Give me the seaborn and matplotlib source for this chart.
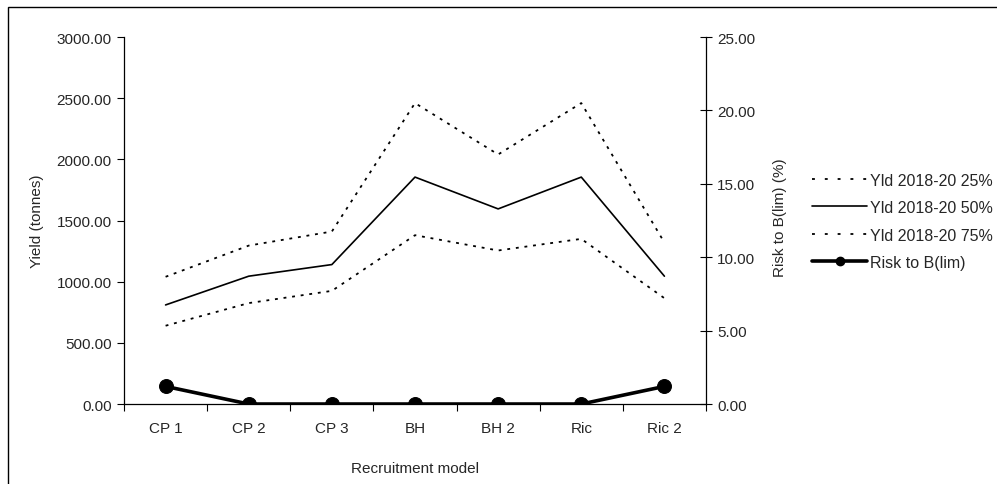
import matplotlib
matplotlib.use("Agg")
import matplotlib.pyplot as plt
import seaborn as sns
import pandas as pd
from matplotlib.patches import Rectangle
from matplotlib.lines import Line2D

sns.set_theme(style="white")
plt.rcParams["font.family"] = ["Liberation Sans", "DejaVu Sans"]

models = ["CP 1", "CP 2", "CP 3", "BH", "BH 2", "Ric", "Ric 2"]
yld_25 = [1040, 1295, 1410, 2460, 2040, 2460, 1320]
yld_50 = [810, 1045, 1140, 1855, 1595, 1855, 1045]
yld_75 = [640, 825, 925, 1380, 1255, 1350, 865]
risk_blim = [1.2, 0.0, 0.0, 0.0, 0.0, 0.0, 1.2]

df = pd.DataFrame({
    "model": models,
    "x": range(len(models)),
    "y25": yld_25,
    "y50": yld_50,
    "y75": yld_75,
    "risk": risk_blim,
})

FS = 11
fig = plt.figure(figsize=(9.97, 4.85), dpi=100)
ax = fig.add_axes([0.1244, 0.1649, 0.5837, 0.7567])
ax2 = ax.twinx()

dot = (0, (1.6, 3.2))
sns.lineplot(data=df, x="x", y="y25", ax=ax, color="black", lw=1.3, linestyle=dot)
sns.lineplot(data=df, x="x", y="y50", ax=ax, color="black", lw=1.2)
sns.lineplot(data=df, x="x", y="y75", ax=ax, color="black", lw=1.3, linestyle=dot)
sns.lineplot(data=df, x="x", y="risk", ax=ax2, color="black", lw=2.6,
             marker="o", markersize=10, markeredgecolor="black")

ax.set_xlim(-0.5, len(models) - 0.5)
ax.set_ylim(0, 3000)
ax2.set_ylim(0, 25)
ax.set_yticks(range(0, 3001, 500))
ax.set_yticklabels([f"{v:.2f}" for v in range(0, 3001, 500)])
ax2.set_yticks(range(0, 26, 5))
ax2.set_yticklabels([f"{v:.2f}" for v in range(0, 26, 5)])

# category labels centred, ticks on the category boundaries
ax.set_xticks([i + 0.5 for i in range(-1, len(models))])
ax.set_xticklabels([])
ax.set_xticks(range(len(models)), minor=True)
ax.set_xticklabels(models, minor=True)
ax.tick_params(axis="x", which="major", direction="out", length=5, width=0.8,
               color="black", bottom=True)
ax.tick_params(axis="x", which="minor", length=0, pad=12, labelsize=FS)
ax.tick_params(axis="y", direction="out", length=5, width=0.8, color="black",
               left=True, labelsize=FS, pad=4)
ax2.tick_params(axis="y", direction="inout", length=8, width=0.8, color="black",
                right=True, labelsize=FS, pad=4)

for a in (ax, ax2):
    a.spines["top"].set_visible(False)
    for s in ("left", "right", "bottom"):
        a.spines[s].set_color("black")
        a.spines[s].set_linewidth(0.9)
ax.spines["right"].set_visible(False)
ax2.spines["left"].set_visible(False)
ax2.spines["bottom"].set_visible(False)

ax.set_xlabel("Recruitment model", fontsize=FS, labelpad=19)
ax.set_ylabel("Yield (tonnes)", fontsize=FS)
ax.yaxis.set_label_coords(-0.1375, 0.5)
ax2.set_ylabel("Risk to B(lim) (%)", fontsize=FS)
ax2.yaxis.set_label_coords(1.1144, 0.51)

handles = [
    Line2D([], [], color="black", lw=1.3, linestyle=(0, (1.6, 5.5))),
    Line2D([], [], color="black", lw=1.2),
    Line2D([], [], color="black", lw=1.3, linestyle=(0, (1.6, 5.5))),
    Line2D([], [], color="black", lw=2.6, marker="o", markersize=6),
]
labels = ["Yld 2018-20 25%", "Yld 2018-20 50%", "Yld 2018-20 75%", "Risk to B(lim)"]
fig.legend(handles, labels, loc="upper left", bbox_to_anchor=(0.8144, 0.642),
           frameon=False, fontsize=11.5, handlelength=3.45, handletextpad=0.2,
           labelspacing=0.78, borderaxespad=0, borderpad=0)

# outer chart border
fig.patches.append(Rectangle((8 / 997, -0.1), 1.2, 1 - 8 / 485 + 0.1,
                             transform=fig.transFigure, fill=False,
                             edgecolor="black", lw=1.0))

fig.savefig("out.png", dpi=100, facecolor="white")
